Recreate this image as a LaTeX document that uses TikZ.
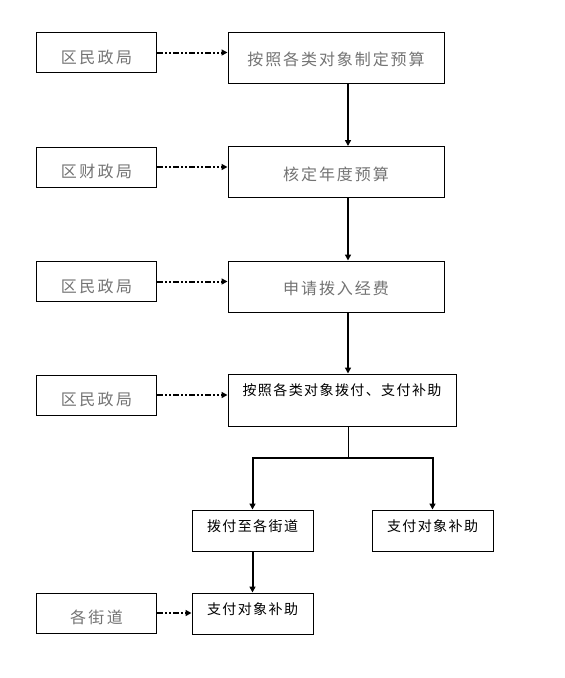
\documentclass[tikz,border=0pt]{standalone}
\usepackage{fontspec}
\setmainfont{Noto Sans CJK SC}
\usepackage{tikz}
\usetikzlibrary{arrows.meta}

\begin{document}
\begin{tikzpicture}[x=1pt,y=-1pt,
   dept/.style={draw,line width=1pt,minimum width=120pt,minimum height=40pt,
     text height=21pt,text depth=0pt,
     text=black!55,font=\fontsize{16}{18}\selectfont\addfontfeature{LetterSpace=15}},
   task/.style={draw,line width=1pt,minimum width=216pt,minimum height=51pt,
     text height=16pt,text depth=0pt,
     text=black!55,font=\fontsize{16}{18}\selectfont\addfontfeature{LetterSpace=12}},
   topbox/.style={draw,line width=1pt,inner ysep=3pt,text height=18pt,
     font=\fontsize{14}{16}\selectfont\addfontfeature{LetterSpace=10}},
   flow/.style={line width=2pt,-{Triangle[length=6pt,width=6pt]}},
   duty/.style={line width=2pt,dash pattern=on 6pt off 2pt on 2pt off 2pt on 2pt off 2pt,
     -{Triangle[length=6pt,width=6pt]}}]
   \useasboundingbox (0,0) rectangle (565,678);

   % offices on the left
   \node[dept] (civ1) at (96.5,52.5) {区民政局};
   \node[dept] (fin) at (96.5,167) {区财政局};
   \node[dept] (civ2) at (96.5,281.5) {区民政局};
   \node[dept] (civ3) at (96.5,395) {区民政局};
   \node[dept] (sts) at (96.5,613) {各街道};

   % main steps
   \node[task] (plan) at (336,57.5) {按照各类对象制定预算};
   \node[task] (check) at (336,172) {核定年度预算};
   \node[task] (apply) at (336,286.5) {申请拨入经费};
   \node[topbox,minimum width=228pt,text depth=28pt] (pay) at (342,400) {按照各类对象拨付、支付补助};
   \node[topbox,minimum width=121pt,text depth=17pt] (tost) at (252.5,530.5) {拨付至各街道};
   \node[topbox,minimum width=121pt,text depth=17pt] (direct) at (432.5,530.5) {支付对象补助};
   \node[topbox,minimum width=121pt,text depth=17pt] (final) at (252.5,613.5) {支付对象补助};

   \coordinate (trunk) at (348,0);
   \coordinate (fork) at (348,458);

   \draw[flow] (plan.south -| trunk) -- (check.north -| trunk);
   \draw[flow] (check.south -| trunk) -- (apply.north -| trunk);
   \draw[flow] (apply.south -| trunk) -- (pay.north -| trunk);
   \draw[line width=1pt] (pay.south -| trunk) -- (fork);
   \draw[flow] (fork) -| (tost.north);
   \draw[flow] (fork) -| (direct.north);
   \draw[flow] (tost) -- (final);

   % dash-dot links
   \draw[duty] (civ1.east) -- (civ1.east -| plan.west);
   \draw[duty] (fin.east) -- (fin.east -| check.west);
   \draw[duty] (civ2.east) -- (civ2.east -| apply.west);
   \draw[duty] (civ3.east) -- (civ3.east -| pay.west);
   \draw[duty] (sts.east) -- (sts.east -| final.west);
\end{tikzpicture}
\end{document}
